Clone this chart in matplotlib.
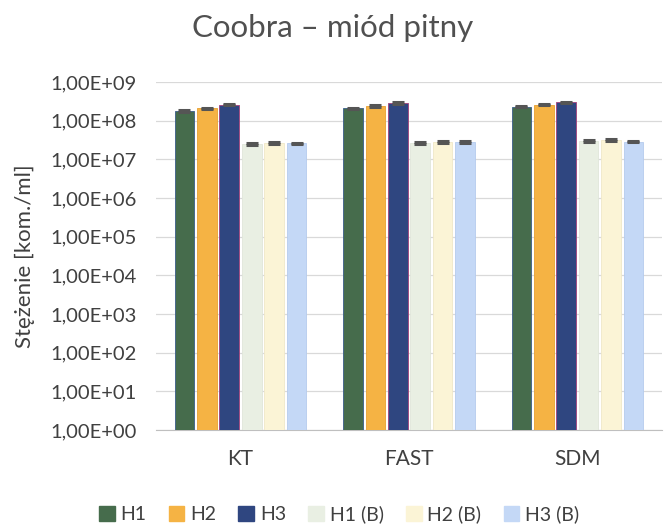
import numpy as np
import matplotlib.pyplot as plt
from matplotlib.ticker import FixedLocator, FixedFormatter

plt.rcParams['font.family'] = ['Lato', 'DejaVu Sans']

categories = ['KT', 'FAST', 'SDM']
series = ['H1', 'H2', 'H3', 'H1 (B)', 'H2 (B)', 'H3 (B)']
values = {
    'H1':     [1.8e8, 2.1e8, 2.3e8],
    'H2':     [2.1e8, 2.4e8, 2.6e8],
    'H3':     [2.6e8, 2.9e8, 3.0e8],
    'H1 (B)': [2.5e7, 2.7e7, 3.0e7],
    'H2 (B)': [2.7e7, 2.8e7, 3.2e7],
    'H3 (B)': [2.6e7, 2.8e7, 2.9e7],
}
# relative error (fraction of value)
rel_err = [0.04, 0.04, 0.04, 0.05, 0.05, 0.05]
colors = ['#466c4c', '#f5b344', '#2f4680', '#e9efe3', '#fbf4d6', '#c4d8f6']
edges = ['#3a5d8a', '#e8a030', '#a4407a', '#e0e6da', '#f0e8c8', '#b5cbee']
ytick_labels = ['1,00E+%02d' % i for i in range(10)]

fig = plt.figure(figsize=(6.65, 5.26), dpi=100)
ax = fig.add_axes([0.235, 0.1825, 0.76, 0.6615])

x = np.arange(len(categories))
bw = 0.117
step = 0.133
for i, s in enumerate(series):
    xs = x + (i - 2.5) * step
    v = np.array(values[s])
    ax.bar(xs, v, width=bw, color=colors[i], edgecolor=edges[i], linewidth=0.6, zorder=3)
    ax.errorbar(xs, v, yerr=v * rel_err[i], fmt='none', ecolor='#555555',
                elinewidth=1.0, capsize=4.5, capthick=2.2, zorder=4)

ax.set_yscale('log')
ax.set_ylim(1, 1e9)
ax.set_xlim(-0.5, 2.5)
ax.yaxis.set_major_locator(FixedLocator([10.0 ** i for i in range(10)]))
ax.yaxis.set_major_formatter(FixedFormatter(ytick_labels))
ax.yaxis.set_minor_locator(FixedLocator([]))
ax.set_xticks(x)
ax.set_xticklabels(categories)
ax.tick_params(axis='both', length=0, colors='#404040')
ax.tick_params(axis='x', pad=14, labelsize=15)
ax.tick_params(axis='y', pad=14, labelsize=14.5)
ax.grid(axis='y', color='#d9d9d9', linewidth=0.9, zorder=0)
for sp in ['top', 'right', 'left']:
    ax.spines[sp].set_visible(False)
ax.spines['bottom'].set_color('#bfbfbf')

ax.set_ylabel('Stężenie [kom./ml]', fontsize=16, color='#404040')
ax.yaxis.set_label_coords(-0.24, 0.5)
fig.text(0.5, 0.946, 'Coobra – miód pitny', ha='center', va='center',
         fontsize=22.5, color='#505050')

handles = [plt.Rectangle((0, 0), 1, 1, color=c) for c in colors]
fig.legend(handles, series, loc='center', bbox_to_anchor=(0.51, 0.023), ncol=6,
           frameon=False, fontsize=14, handlelength=0.8, handleheight=0.8,
           columnspacing=1.15, handletextpad=0.3, labelcolor='#404040',
           borderpad=0.1)

fig.savefig('out.png', dpi=100)
